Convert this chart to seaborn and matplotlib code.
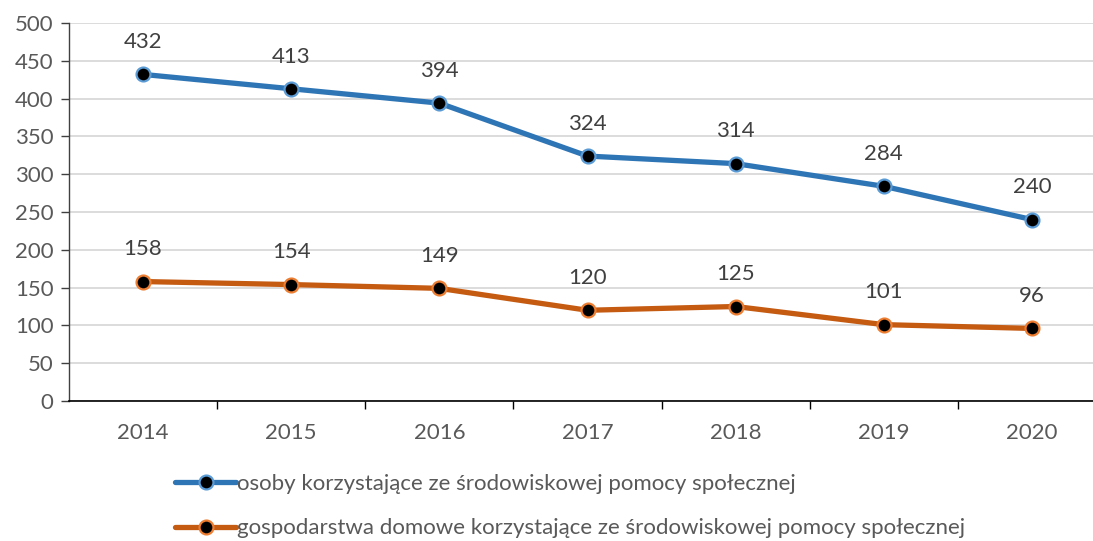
import matplotlib.pyplot as plt
import pandas as pd
import seaborn as sns

YEARS = [2014, 2015, 2016, 2017, 2018, 2019, 2020]
OSOBY = [432, 413, 394, 324, 314, 284, 240]
GOSPODARSTWA = [158, 154, 149, 120, 125, 101, 96]
LABELS = [
    "osoby korzystające ze środowiskowej pomocy społecznej",
    "gospodarstwa domowe korzystające ze środowiskowej pomocy społecznej",
]
LINE_COLORS = ["#2E75B6", "#C55A11"]
EDGE_COLORS = ["#5B9BD5", "#ED7D31"]
TEXT_COLOR = "#595959"
FS = 16

sns.set_style("white")
plt.rcParams["font.family"] = ["Lato", "DejaVu Sans"]

fig = plt.figure(figsize=(10.93, 5.41), dpi=100)
ax = fig.add_axes([69 / 1093, 1 - 401 / 541, (1106 - 69) / 1093, (401 - 23) / 541])

series = [OSOBY, GOSPODARSTWA]
for values, label, lc, ec in zip(series, LABELS, LINE_COLORS, EDGE_COLORS):
    df = pd.DataFrame({"rok": YEARS, "wartosc": values})
    sns.lineplot(
        data=df, x="rok", y="wartosc", ax=ax, color=lc, linewidth=3.8,
        marker="o", markersize=10, markerfacecolor="black",
        markeredgecolor=ec, markeredgewidth=1.6, label=label,
    )
    for x, y in zip(YEARS, values):
        ax.annotate(str(y), (x, y), xytext=(0, 16), textcoords="offset points",
                    ha="center", va="bottom", fontsize=FS, color="#404040")

ax.set_xlim(2013.5, 2020.5)
ax.set_ylim(0, 500)
ax.set_yticks(range(0, 501, 50))
ax.set_xticks(YEARS)
ax.set_xticks([y + 0.5 for y in YEARS], minor=True)
ax.set_xlabel("")
ax.set_ylabel("")
ax.grid(axis="y", color="#D9D9D9", linewidth=1.3)
ax.set_axisbelow(True)

for side in ["top", "right"]:
    ax.spines[side].set_visible(False)
ax.spines["left"].set_color("#404040")
ax.spines["bottom"].set_color("black")
ax.spines["left"].set_linewidth(1.0)
ax.spines["bottom"].set_linewidth(1.2)

ax.tick_params(axis="y", which="major", length=6, width=1, color="#404040",
               labelsize=FS, labelcolor=TEXT_COLOR, pad=5, left=True)
ax.tick_params(axis="x", which="major", length=0, labelsize=FS,
               labelcolor=TEXT_COLOR, pad=16)
ax.tick_params(axis="x", which="minor", length=6, width=1, color="black",
               bottom=True)

leg = ax.legend(
    loc="upper left", bbox_to_anchor=(175 / 1093, 1 - 474 / 541),
    bbox_transform=fig.transFigure, frameon=False, fontsize=FS,
    handlelength=2.75, handletextpad=0.05, labelspacing=1.1,
    borderpad=0, borderaxespad=0,
)
for t in leg.get_texts():
    t.set_color(TEXT_COLOR)

fig.savefig("out.png", dpi=100)
